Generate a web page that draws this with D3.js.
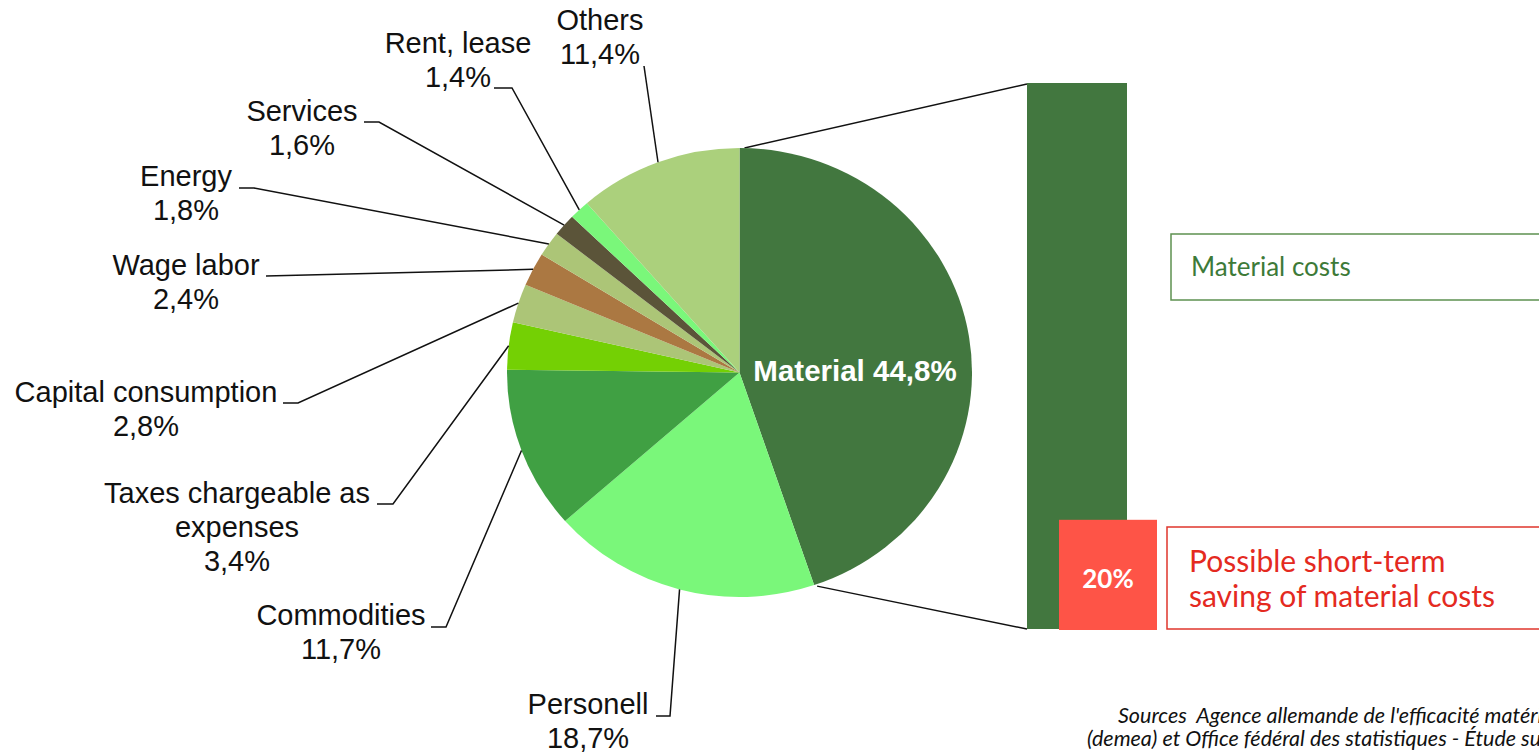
<!DOCTYPE html>
<html>
<head>
<meta charset="utf-8">
<script src="https://cdn.jsdelivr.net/npm/d3@7"></script>
<style>
  body { margin: 0; background: #fff; overflow: hidden; }
  svg { display: block; }
  .lbl { font-family: "Liberation Sans", Arial, sans-serif; font-size: 29px; fill: #111; }
  .side { font-family: Lato, "Open Sans", sans-serif; }
</style>
</head>
<body>
<div id="chart"></div>
<script>
// Cost structure data
const categories = ["Material", "Personell", "Commodities", "Taxes chargeable as expenses",
    "Capital consumption", "Wage labor", "Energy", "Services", "Rent, lease", "Others"];
const shares = [44.8, 18.7, 11.7, 3.4, 2.8, 2.4, 1.8, 1.6, 1.4, 11.4];
const sliceColors = ["#42773f", "#7af77a", "#40a043", "#74d004", "#acc577",
    "#ab7842", "#acc577", "#5b5439", "#7af77a", "#abd07c"];
const savingShare = 20; // % of material costs
const barDomain = [0, 100];

// label layout (x centre, first baseline, leader start / elbow)
const labelLayout = [
    null,
    { x: 588, y: 714, words: 1, lead: [656, 670, 716] },
    { x: 341, y: 625, words: 1, lead: [431, 446, 627] },
    { x: 237, y: 503, words: 3, lead: [377, 393, 504] },
    { x: 146, y: 402, words: 2, lead: [283, 298, 403] },
    { x: 186, y: 275, words: 2, lead: [266, 266, 276] },
    { x: 186, y: 186, words: 1, lead: [239, 254, 188] },
    { x: 302, y: 121, words: 1, lead: [364, 379, 122] },
    { x: 458, y: 53, words: 2, lead: [494, 512, 88] },
    { x: 600, y: 30, words: 1, lead: [644, 644, 66] }
];

const width = 1539, height = 753;
const cx = 739.5, cy = 372.5, rx = 232.5, ry = 224.5;
const lineGap = 34;

const locale = d3.formatLocale({ decimal: ",", thousands: ".", grouping: [3], currency: ["", "€"] });
const pct = v => locale.format(".1f")(v) + "%";

const svg = d3.select("#chart").append("svg")
    .attr("width", width)
    .attr("height", height);

const pie = d3.pie().sort(null).value(d => d);
const arcs = pie(shares);
const arc = d3.arc().innerRadius(0).outerRadius(ry);

// point on the (slightly elliptic) pie edge
const edge = (a, k = 1) => [cx + rx * k * Math.sin(a), cy - ry * k * Math.cos(a)];

// connector lines pie -> bar (drawn first, under everything)
const barX = 1027, barW = 100;
const y = d3.scaleLinear().domain(barDomain).range([629, 83]);
const mat = arcs[0];
const p0 = edge(mat.startAngle), p1 = edge(mat.endAngle);
svg.append("line")
    .attr("x1", p0[0] + 5).attr("y1", p0[1])
    .attr("x2", barX).attr("y2", y(barDomain[1]) + 1)
    .attr("stroke", "#111").attr("stroke-width", 1.5);
svg.append("line")
    .attr("x1", p1[0] + 3).attr("y1", p1[1] + 1)
    .attr("x2", barX).attr("y2", y(barDomain[0]))
    .attr("stroke", "#111").attr("stroke-width", 1.5);

// pie slices
const pieG = svg.append("g")
    .attr("transform", `translate(${cx},${cy}) scale(${rx / ry},1)`);
pieG.selectAll("path")
    .data(arcs)
    .join("path")
    .attr("d", arc)
    .attr("fill", (d, i) => sliceColors[i]);

// label inside Material slice
svg.append("text")
    .attr("x", 855).attr("y", 381)
    .attr("text-anchor", "middle")
    .attr("font-family", "'Liberation Sans', Arial, sans-serif")
    .attr("font-weight", "bold")
    .attr("font-size", 29.5)
    .attr("fill", "#fff")
    .text(`${categories[0]} ${pct(shares[0])}`);

// outer labels with leader lines
arcs.forEach((d, i) => {
    const L = labelLayout[i];
    if (!L) return;
    const words = categories[i].split(" ");
    const lines = [words.slice(0, L.words).join(" ")];
    if (L.words < words.length) lines.push(words.slice(L.words).join(" "));
    lines.push(pct(shares[i]));

    const t = svg.append("text").attr("class", "lbl").attr("text-anchor", "middle");
    lines.forEach((s, j) => {
        t.append("tspan").attr("x", L.x).attr("y", L.y + j * lineGap).text(s);
    });

    const end = edge((d.startAngle + d.endAngle) / 2);
    svg.append("polyline")
        .attr("points", [[L.lead[0], L.lead[2]], [L.lead[1], L.lead[2]], end].map(p => p.join(",")).join(" "))
        .attr("fill", "none")
        .attr("stroke", "#111")
        .attr("stroke-width", 1.5);
});

// material cost bar with the saving share
svg.append("rect")
    .attr("x", barX).attr("y", y(barDomain[1]))
    .attr("width", barW).attr("height", y(barDomain[0]) - y(barDomain[1]))
    .attr("fill", "#42773f");
svg.append("rect")
    .attr("x", 1059).attr("y", y(savingShare))
    .attr("width", 98).attr("height", y(0) - y(savingShare) + 1)
    .attr("fill", "#fe5447");
svg.append("text")
    .attr("class", "side")
    .attr("x", 1108).attr("y", 588)
    .attr("text-anchor", "middle")
    .attr("font-weight", "bold")
    .attr("font-size", 26)
    .attr("fill", "#fff")
    .text(`${savingShare}%`);

// callout boxes
svg.append("rect")
    .attr("x", 1171).attr("y", 234).attr("width", 400).attr("height", 66)
    .attr("fill", "none").attr("stroke", "#5d9150").attr("stroke-width", 1.5);
svg.append("text")
    .attr("class", "side")
    .attr("x", 1191).attr("y", 276)
    .attr("font-size", 26)
    .attr("fill", "#3d7a38")
    .text("Material costs");

svg.append("rect")
    .attr("x", 1167).attr("y", 527).attr("width", 400).attr("height", 102)
    .attr("fill", "none").attr("stroke", "#e0362c").attr("stroke-width", 1.5);
const red = svg.append("text")
    .attr("class", "side")
    .attr("font-size", 30)
    .attr("fill", "#e42a1f");
red.append("tspan").attr("x", 1189).attr("y", 572).text("Possible short-term");
red.append("tspan").attr("x", 1189).attr("y", 607).text("saving of material costs");

// source note (runs past the right edge, as in the original slide)
const src = svg.append("text")
    .attr("class", "side")
    .attr("font-style", "italic")
    .attr("font-size", 21.5)
    .attr("fill", "#111")
    .style("white-space", "pre");
src.append("tspan").attr("x", 1118).attr("y", 723)
    .text("Sources  Agence allemande de l'efficacité matérielle");
src.append("tspan").attr("x", 1087).attr("y", 746)
    .text("(demea) et Office fédéral des statistiques - Étude sur les coûts");
</script>
</body>
</html>
